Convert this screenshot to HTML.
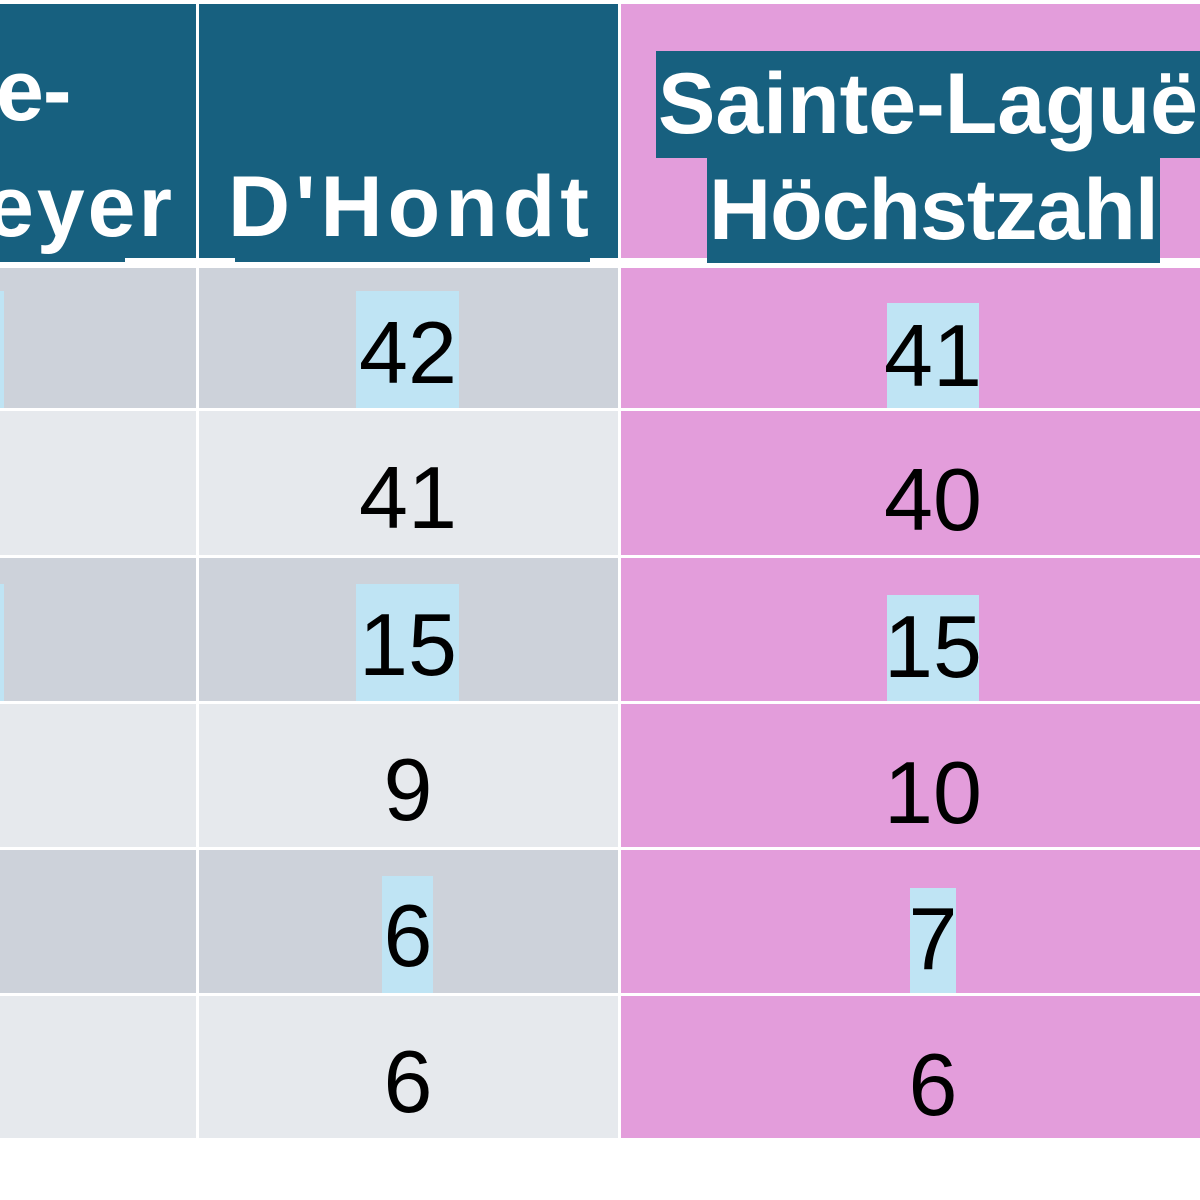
<!DOCTYPE html>
<html><head><meta charset="utf-8"><style>
body{margin:0;width:1200px;height:1200px;background:#fff;position:relative;overflow:hidden;font-family:"Liberation Sans",sans-serif}
div{position:absolute}
.t{line-height:88px;font-size:88px;white-space:nowrap}
.h{color:#fff;font-weight:bold;font-size:86px;line-height:86px;letter-spacing:-1px}
.b{background:#bfe4f4}
</style></head><body>
<div style="left:0;top:4px;width:196px;height:254px;background:#17607f"></div>
<div style="left:199px;top:4px;width:419px;height:254px;background:#17607f"></div>
<div style="left:621px;top:4px;width:579px;height:254px;background:#e39ddb"></div>
<div style="left:656px;top:51px;width:544px;height:107px;background:#17607f"></div>
<div style="left:707px;top:158px;width:453px;height:105px;background:#17607f"></div>
<div style="left:0;top:258px;width:125px;height:4px;background:#17607f"></div>
<div style="left:235px;top:258px;width:355px;height:4px;background:#17607f"></div>

<div class="t h" style="left:-4px;top:48px">e-</div>
<div class="t h" style="left:-14px;top:164px;letter-spacing:3px">eyer</div>
<div class="t h" style="left:228px;top:164px;letter-spacing:5px">D'Hondt</div>
<div class="t h" style="left:658px;top:61px;letter-spacing:0px">Sainte-Laguë-</div>
<div class="t h" style="left:709px;top:167px;letter-spacing:-1px">Höchstzahl</div>

<!-- rows -->
<div style="left:0;top:268px;width:196px;height:140px;background:#cdd2da"></div>
<div style="left:199px;top:268px;width:419px;height:140px;background:#cdd2da"></div>
<div style="left:0;top:411px;width:196px;height:144px;background:#e6e9ed"></div>
<div style="left:199px;top:411px;width:419px;height:144px;background:#e6e9ed"></div>
<div style="left:0;top:558px;width:196px;height:143px;background:#cdd2da"></div>
<div style="left:199px;top:558px;width:419px;height:143px;background:#cdd2da"></div>
<div style="left:0;top:704px;width:196px;height:143px;background:#e6e9ed"></div>
<div style="left:199px;top:704px;width:419px;height:143px;background:#e6e9ed"></div>
<div style="left:0;top:850px;width:196px;height:143px;background:#cdd2da"></div>
<div style="left:199px;top:850px;width:419px;height:143px;background:#cdd2da"></div>
<div style="left:0;top:996px;width:196px;height:142px;background:#e6e9ed"></div>
<div style="left:199px;top:996px;width:419px;height:142px;background:#e6e9ed"></div>

<div style="left:621px;top:268px;width:579px;height:140px;background:#e39ddb"></div>
<div style="left:621px;top:411px;width:579px;height:144px;background:#e39ddb"></div>
<div style="left:621px;top:558px;width:579px;height:143px;background:#e39ddb"></div>
<div style="left:621px;top:704px;width:579px;height:143px;background:#e39ddb"></div>
<div style="left:621px;top:850px;width:579px;height:143px;background:#e39ddb"></div>
<div style="left:621px;top:996px;width:579px;height:142px;background:#e39ddb"></div>

<div class="b" style="left:0;top:291px;width:4px;height:117px"></div>
<div class="b" style="left:0;top:584px;width:4px;height:117px"></div>
<div class="b" style="left:356px;top:291px;width:103px;height:117px"></div>
<div class="b" style="left:356px;top:584px;width:103px;height:117px"></div>
<div class="b" style="left:382px;top:876px;width:51px;height:117px"></div>
<div class="b" style="left:887px;top:303px;width:92px;height:105px"></div>
<div class="b" style="left:887px;top:595px;width:92px;height:106px"></div>
<div class="b" style="left:910px;top:888px;width:46px;height:105px"></div>

<div class="t" style="left:208px;width:400px;text-align:center;top:309px">42</div>
<div class="t" style="left:208px;width:400px;text-align:center;top:454px">41</div>
<div class="t" style="left:208px;width:400px;text-align:center;top:601px">15</div>
<div class="t" style="left:208px;width:400px;text-align:center;top:746px">9</div>
<div class="t" style="left:208px;width:400px;text-align:center;top:892px">6</div>
<div class="t" style="left:208px;width:400px;text-align:center;top:1038px">6</div>

<div class="t" style="left:733px;width:400px;text-align:center;top:312px">41</div>
<div class="t" style="left:733px;width:400px;text-align:center;top:456px">40</div>
<div class="t" style="left:733px;width:400px;text-align:center;top:603px">15</div>
<div class="t" style="left:733px;width:400px;text-align:center;top:749px">10</div>
<div class="t" style="left:733px;width:400px;text-align:center;top:895px">7</div>
<div class="t" style="left:733px;width:400px;text-align:center;top:1041px">6</div>
</body></html>
